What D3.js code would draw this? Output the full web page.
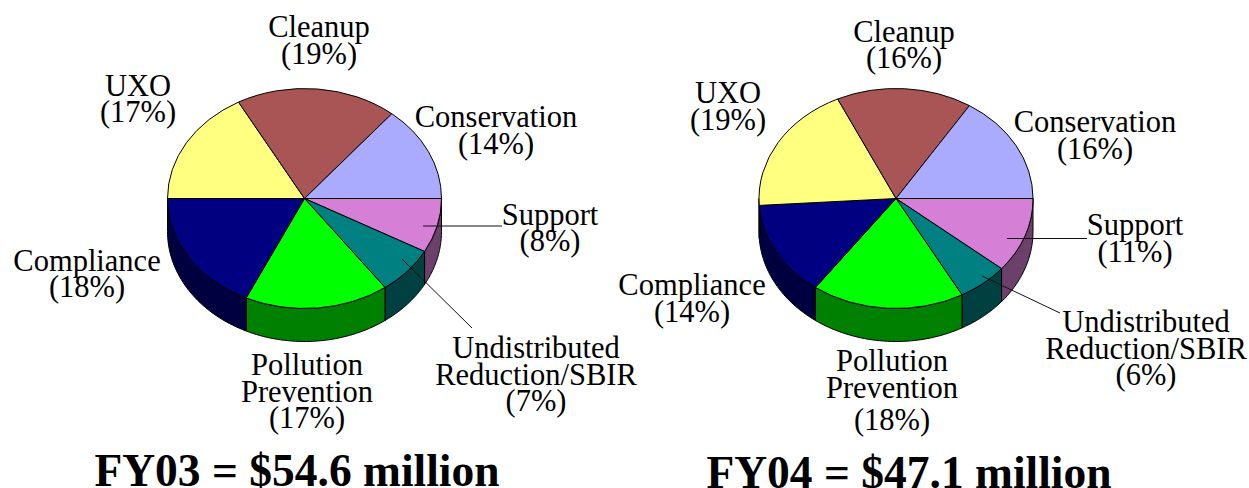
<!DOCTYPE html>
<html>
<head>
<meta charset="utf-8">
<script src="https://cdn.jsdelivr.net/npm/d3@7"></script>
<style>
  html, body { margin: 0; padding: 0; background: #fff; }
  svg { display: block; }
  text { font-family: "Liberation Serif", serif; fill: #000; }
</style>
</head>
<body>
<svg class="chart" width="1249" height="488"></svg>
<script>
// slices run clockwise from 3 o'clock
const categories = ["Support", "Undistributed Reduction/SBIR", "Pollution Prevention", "Compliance", "UXO", "Cleanup", "Conservation"];
const fy03Values = [8, 7, 17, 18, 17, 19, 14];
const fy04Values = [11, 6, 18, 14, 19, 16, 16];
const titles = ["FY03 = $54.6 million", "FY04 = $47.1 million"];

const topColors = ["#d67fd6", "#008080", "#00ff00", "#000080", "#ffff80", "#aa5555", "#aaaaff"];
const sideColors = ["#6b406b", "#004040", "#008000", "#000040", "#808040", "#552a2a", "#555580"];

const labelLines = [["Support"], ["Undistributed", "Reduction/SBIR"], ["Pollution", "Prevention"], ["Compliance"], ["UXO"], ["Cleanup"], ["Conservation"]];

const fy03Layout = {
  cx: 304.5, titleX: 297, titleY: 485.5,
  labels: [[550, 224.5], [536, 358], [307, 375], [87, 270.5], [138, 95.5], [319, 37], [496, 127]],
  pctShift: [0, 0, 0, 0, 0, 0, 0],
  leaders: [[[423, 226], [502, 226]], [[402, 259], [472, 328]]],
};
const fy04Layout = {
  cx: 896, titleX: 909, titleY: 487.5,
  labels: [[1135, 235], [1146, 332], [892, 371], [692, 295], [728, 103], [904, 41.5], [1095, 132]],
  pctShift: [0, 0, 6, 0, 0, 0, 0],
  leaders: [[[1007, 238.5], [1087, 238.5]], [[982, 276], [1060, 313]]],
};

const cy = 198.5, rx = 137, ry = 110, depth = 33;
const labelSize = 30.5, lineGap = 26.5;

const svg = d3.select(".chart");
const pie = d3.pie().sort(null).startAngle(Math.PI / 2).endAngle(Math.PI * 2.5);
const arc = d3.arc().innerRadius(0).outerRadius(rx);
const ellipseX = d3.scaleLinear().domain([-1, 1]).range([-rx, rx]);
const ellipseY = d3.scaleLinear().domain([-1, 1]).range([-ry, ry]);

function wallPath(d) {
  // only the part of the rim facing the viewer, PI/2..3PI/2 in pie angles
  const a0 = Math.max(d.startAngle, Math.PI / 2);
  const a1 = Math.min(d.endAngle, Math.PI * 1.5);
  if (a1 <= a0) return null;
  const angles = d3.range(0, 41).map((i) => a0 + ((a1 - a0) * i) / 40);
  const pts = angles.map((a) => [ellipseX(Math.sin(a)), ellipseY(-Math.cos(a))]);
  const lower = pts.map(([x, y]) => [x, y + depth]).reverse();
  return d3.line()(pts.concat(lower)) + "Z";
}

function drawPie(values, layout, title) {
  const g = svg.append("g").attr("transform", `translate(${layout.cx},${cy})`);
  const slices = pie(values);

  g.selectAll(".wall")
    .data(slices)
    .join("path")
    .attr("class", "wall")
    .attr("d", wallPath)
    .attr("fill", (d, i) => sideColors[i])
    .attr("stroke", "#000")
    .attr("stroke-width", 1);

  g.selectAll(".slice")
    .data(slices)
    .join("path")
    .attr("class", "slice")
    .attr("d", arc)
    .attr("transform", `scale(1,${ry / rx})`)
    .attr("vector-effect", "non-scaling-stroke")
    .attr("fill", (d, i) => topColors[i])
    .attr("stroke", "#000")
    .attr("stroke-width", 1);

  svg.append("g")
    .selectAll("line")
    .data(layout.leaders)
    .join("line")
    .attr("x1", (d) => d[0][0])
    .attr("y1", (d) => d[0][1])
    .attr("x2", (d) => d[1][0])
    .attr("y2", (d) => d[1][1])
    .attr("stroke", "#111")
    .attr("stroke-width", 1);

  const labels = svg.append("g")
    .selectAll("text")
    .data(categories)
    .join("text")
    .attr("text-anchor", "middle")
    .attr("font-size", labelSize)
    .attr("transform", (d, i) => `translate(${layout.labels[i][0]},${layout.labels[i][1]})`);

  labels.each(function (d, i) {
    const names = labelLines[i];
    const lines = names.concat(`(${values[i]}%)`);
    d3.select(this)
      .selectAll("tspan")
      .data(lines)
      .join("tspan")
      .attr("x", 0)
      .attr("y", (l, j) => j * lineGap + (j === names.length ? layout.pctShift[i] : 0))
      .text((l) => l);
  });

  svg.append("text")
    .attr("x", layout.titleX)
    .attr("y", layout.titleY)
    .attr("text-anchor", "middle")
    .attr("font-size", 45.5)
    .attr("font-weight", "bold")
    .text(title);
}

drawPie(fy03Values, fy03Layout, titles[0]);
drawPie(fy04Values, fy04Layout, titles[1]);
</script>
</body>
</html>
